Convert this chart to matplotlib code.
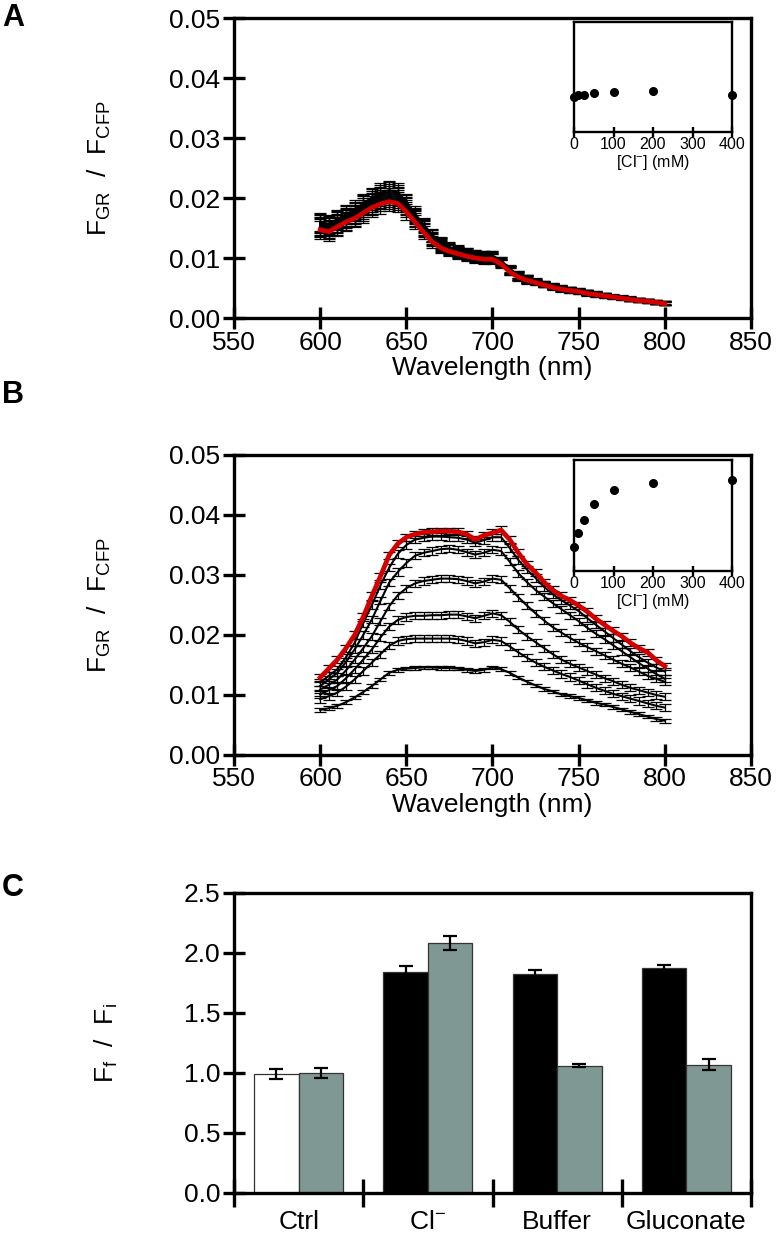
import numpy as np
import matplotlib
matplotlib.use("Agg")
import matplotlib.pyplot as plt
from matplotlib.ticker import FormatStrFormatter, MultipleLocator, FixedLocator

plt.rcParams['font.family'] = ['Liberation Sans', 'DejaVu Sans']
plt.rcParams['mathtext.fontset'] = 'custom'
plt.rcParams['mathtext.rm'] = 'Liberation Sans'
plt.rcParams['mathtext.it'] = 'Liberation Sans:italic'
plt.rcParams['mathtext.bf'] = 'Liberation Sans:bold'

# ---------------- data ----------------
wavelength = list(range(600, 801, 5))
conc = [0, 10, 25, 50, 100, 200, 400]

# Panel A spectra (last = 400 mM, red)
specA_0 = [0.0150,0.0147,0.0154,0.0162,0.0169,0.0178,0.0187,0.0194,0.0198,0.0195,0.0181,0.0163,0.0146,0.0130,0.0119,0.0113,0.0108,0.0104,0.0101,0.0099,0.0099,0.0091,0.0078,0.0069,0.0064,0.0059,0.0055,0.0052,0.0049,0.0046,0.0044,0.0042,0.0039,0.0037,0.0035,0.0033,0.0031,0.0030,0.0028,0.0026,0.0024]
specA_10 = [0.0152,0.0149,0.0157,0.0165,0.0172,0.0181,0.0190,0.0197,0.0201,0.0198,0.0184,0.0166,0.0148,0.0132,0.0121,0.0114,0.0109,0.0105,0.0102,0.0100,0.0100,0.0092,0.0079,0.0070,0.0064,0.0060,0.0056,0.0052,0.0049,0.0047,0.0045,0.0042,0.0040,0.0038,0.0036,0.0034,0.0032,0.0030,0.0028,0.0026,0.0025]
specA_25 = [0.0154,0.0151,0.0159,0.0167,0.0174,0.0184,0.0193,0.0200,0.0204,0.0201,0.0187,0.0168,0.0150,0.0134,0.0122,0.0115,0.0110,0.0106,0.0103,0.0101,0.0101,0.0093,0.0080,0.0070,0.0065,0.0060,0.0056,0.0053,0.0050,0.0047,0.0045,0.0042,0.0040,0.0038,0.0036,0.0034,0.0032,0.0030,0.0028,0.0027,0.0025]
specA_50 = [0.0156,0.0153,0.0161,0.0169,0.0177,0.0187,0.0196,0.0203,0.0207,0.0204,0.0189,0.0170,0.0152,0.0136,0.0124,0.0116,0.0111,0.0107,0.0104,0.0102,0.0102,0.0094,0.0081,0.0071,0.0065,0.0061,0.0057,0.0053,0.0050,0.0048,0.0045,0.0043,0.0040,0.0038,0.0036,0.0034,0.0032,0.0030,0.0029,0.0027,0.0025]
specA_100 = [0.0158,0.0155,0.0163,0.0171,0.0179,0.0189,0.0199,0.0206,0.0210,0.0207,0.0192,0.0172,0.0154,0.0137,0.0125,0.0117,0.0112,0.0108,0.0105,0.0103,0.0103,0.0095,0.0081,0.0072,0.0066,0.0061,0.0057,0.0054,0.0051,0.0048,0.0046,0.0043,0.0041,0.0039,0.0036,0.0034,0.0032,0.0031,0.0029,0.0027,0.0025]
specA_200 = [0.0160,0.0157,0.0165,0.0173,0.0181,0.0191,0.0201,0.0209,0.0213,0.0210,0.0194,0.0174,0.0156,0.0139,0.0126,0.0118,0.0113,0.0109,0.0106,0.0104,0.0104,0.0096,0.0082,0.0072,0.0066,0.0062,0.0058,0.0054,0.0051,0.0048,0.0046,0.0043,0.0041,0.0039,0.0037,0.0035,0.0033,0.0031,0.0029,0.0027,0.0026]
specA_400 = [0.0147,0.0144,0.0152,0.0160,0.0166,0.0175,0.0184,0.0190,0.0194,0.0191,0.0177,0.0160,0.0143,0.0127,0.0117,0.0111,0.0107,0.0103,0.0100,0.0098,0.0098,0.0090,0.0077,0.0068,0.0063,0.0059,0.0055,0.0051,0.0048,0.0046,0.0044,0.0041,0.0039,0.0037,0.0035,0.0033,0.0031,0.0029,0.0028,0.0026,0.0024]
errA = [0.0015,0.0015,0.0015,0.0015,0.0015,0.0016,0.0016,0.0016,0.0016,0.0015,0.0013,0.0012,0.0011,0.0010,0.0009,0.0008,0.0008,0.0008,0.0008,0.0008,0.0008,0.0006,0.0006,0.0006,0.0006,0.0004,0.0004,0.0004,0.0004,0.0004,0.0004,0.0004,0.0004,0.0003,0.0003,0.0003,0.0003,0.0003,0.0003,0.0003,0.0003]

# Panel B spectra
specB_0 = [0.0075,0.0078,0.0082,0.0088,0.0096,0.0105,0.0115,0.0126,0.0137,0.0142,0.0144,0.0145,0.0146,0.0146,0.0145,0.0145,0.0144,0.0142,0.0140,0.0142,0.0146,0.0143,0.0137,0.0129,0.0122,0.0116,0.0110,0.0106,0.0101,0.0098,0.0095,0.0091,0.0087,0.0084,0.0080,0.0076,0.0072,0.0068,0.0064,0.0060,0.0057]
specB_10 = [0.0093,0.0098,0.0104,0.0114,0.0126,0.0140,0.0154,0.0168,0.0182,0.0190,0.0193,0.0194,0.0194,0.0194,0.0194,0.0194,0.0193,0.0190,0.0186,0.0188,0.0192,0.0190,0.0181,0.0171,0.0162,0.0154,0.0147,0.0141,0.0135,0.0130,0.0124,0.0118,0.0112,0.0107,0.0102,0.0098,0.0094,0.0090,0.0086,0.0082,0.0079]
specB_25 = [0.0101,0.0108,0.0115,0.0128,0.0143,0.0159,0.0176,0.0196,0.0214,0.0225,0.0230,0.0232,0.0232,0.0233,0.0233,0.0234,0.0234,0.0231,0.0228,0.0232,0.0236,0.0233,0.0222,0.0209,0.0198,0.0188,0.0178,0.0168,0.0159,0.0152,0.0146,0.0140,0.0134,0.0128,0.0123,0.0117,0.0112,0.0108,0.0104,0.0100,0.0097]
specB_50 = [0.0109,0.0117,0.0126,0.0141,0.0159,0.0178,0.0198,0.0223,0.0248,0.0266,0.0278,0.0286,0.0290,0.0292,0.0294,0.0294,0.0293,0.0290,0.0286,0.0289,0.0294,0.0292,0.0278,0.0263,0.0249,0.0236,0.0224,0.0213,0.0204,0.0195,0.0187,0.0180,0.0173,0.0166,0.0159,0.0152,0.0146,0.0139,0.0132,0.0127,0.0122]
specB_100 = [0.0115,0.0126,0.0137,0.0155,0.0176,0.0200,0.0226,0.0257,0.0287,0.0305,0.0320,0.0332,0.0337,0.0340,0.0343,0.0344,0.0342,0.0338,0.0334,0.0337,0.0342,0.0340,0.0322,0.0303,0.0288,0.0275,0.0264,0.0253,0.0243,0.0233,0.0223,0.0212,0.0202,0.0193,0.0183,0.0173,0.0163,0.0153,0.0144,0.0135,0.0127]
specB_200 = [0.0121,0.0132,0.0143,0.0163,0.0187,0.0220,0.0250,0.0283,0.0312,0.0335,0.0350,0.0359,0.0362,0.0364,0.0364,0.0363,0.0362,0.0359,0.0354,0.0358,0.0363,0.0363,0.0345,0.0325,0.0309,0.0295,0.0280,0.0268,0.0258,0.0249,0.0240,0.0228,0.0217,0.0206,0.0195,0.0184,0.0173,0.0163,0.0154,0.0146,0.0139]
specB_400 = [0.0129,0.0144,0.0159,0.0178,0.0200,0.0230,0.0265,0.0298,0.0333,0.0352,0.0363,0.0368,0.0371,0.0372,0.0373,0.0373,0.0372,0.0368,0.0359,0.0366,0.0370,0.0375,0.0359,0.0337,0.0318,0.0304,0.0288,0.0275,0.0265,0.0258,0.0249,0.0239,0.0227,0.0217,0.0207,0.0198,0.0187,0.0178,0.0171,0.0158,0.0148]
errB = [0.0003, 0.0006, 0.0006, 0.0006, 0.0006, 0.0006, 0.0006]

# insets
insetA_vals = [0.0184, 0.0188, 0.0190, 0.0195, 0.0201, 0.0203, 0.0188]
insetB_vals = [0.0145, 0.0190, 0.0235, 0.0290, 0.0336, 0.0360, 0.0370]

# Panel C
groups = ['Ctrl', 'Cl$^{-}$', 'Buffer', 'Gluconate']
first_vals = [0.99, 1.845, 1.825, 1.875]
first_err = [0.04, 0.048, 0.036, 0.028]
second_vals = [1.00, 2.085, 1.06, 1.07]
second_err = [0.04, 0.058, 0.013, 0.046]

# ---------------- figure ----------------
W, H = 779, 1237
fig = plt.figure(figsize=(W/100, H/100), dpi=100)

def fpos(x0, y0, x1, y1):
    return [x0/W, 1 - y1/H, (x1-x0)/W, (y1-y0)/H]

FS = 19
SP_LW = 2.4

def style_main(ax):
    for s in ax.spines.values():
        s.set_linewidth(SP_LW)
    ax.tick_params(axis='both', direction='inout', length=16, width=2.4,
                   labelsize=FS, pad=2)

def spectra_panel(ax, specs, errs_list):
    n = len(specs)
    for i, (s, e) in enumerate(zip(specs, errs_list)):
        red = (i == n-1)
        ax.errorbar(wavelength, s, yerr=e, fmt='none', ecolor='black',
                    elinewidth=0.9, capsize=4.5, capthick=0.9, zorder=2)
        ax.plot(wavelength, s, color='#d40000' if red else 'black',
                lw=3.4 if red else 1.5, zorder=4 if red else 3,
                solid_joinstyle='round')
    ax.set_xlim(550, 850)
    ax.set_ylim(0, 0.05)
    ax.xaxis.set_major_locator(MultipleLocator(50))
    ax.yaxis.set_major_locator(MultipleLocator(0.01))
    ax.yaxis.set_major_formatter(FormatStrFormatter('%.2f'))
    ax.tick_params(axis='x', pad=1)
    ax.set_xlabel('Wavelength (nm)', fontsize=FS, labelpad=1)
    ax.set_ylabel(r'F$_{\mathrm{GR}}$  /  F$_{\mathrm{CFP}}$', fontsize=FS, labelpad=40)

def inset(ax, vals):
    ax.plot(conc, vals, 'o', color='black', ms=5.5, clip_on=False, zorder=5)
    ax.set_xlim(0, 400)
    ax.set_ylim(0.0063, 0.0438)
    ax.set_yticks([])
    ax.xaxis.set_major_locator(MultipleLocator(100))
    for s in ax.spines.values():
        s.set_linewidth(1.7)
    ax.tick_params(axis='x', direction='inout', length=7, width=1.7,
                   labelsize=11.5, pad=0)
    ax.set_xlabel(r'[Cl$^{-}$] (mM)', fontsize=11.5, labelpad=1)

axA = fig.add_axes(fpos(234, 18, 751, 318))
style_main(axA)
spectra_panel(axA, [specA_0, specA_10, specA_25, specA_50, specA_100, specA_200, specA_400],
              [errA]*7)
axB = fig.add_axes(fpos(234, 455, 751, 755))
style_main(axB)
spectra_panel(axB, [specB_0, specB_10, specB_25, specB_50, specB_100, specB_200, specB_400],
              errB)

insA = fig.add_axes(fpos(574, 22, 732, 132))
inset(insA, insetA_vals)
insB = fig.add_axes(fpos(574, 460, 732, 571))
inset(insB, insetB_vals)

# Panel C
axC = fig.add_axes(fpos(234, 893, 751, 1193))
x = np.arange(len(groups))
bw = 0.345
first_colors = ['white', 'black', 'black', 'black']
axC.bar(x - bw/2, first_vals, width=bw, color=first_colors, edgecolor='#333333',
        linewidth=0.9, zorder=2)
axC.bar(x + bw/2, second_vals, width=bw, color='#7f9893', edgecolor='#333333',
        linewidth=0.9, zorder=2)
axC.errorbar(x - bw/2, first_vals, yerr=first_err, fmt='none', ecolor='black',
             elinewidth=1.6, capsize=5, capthick=1.6, zorder=3)
axC.errorbar(x + bw/2, second_vals, yerr=second_err, fmt='none', ecolor='black',
             elinewidth=1.6, capsize=5, capthick=1.6, zorder=3)
axC.set_xlim(-0.5, len(groups) - 0.5)
axC.set_ylim(0, 2.5)
axC.yaxis.set_major_locator(MultipleLocator(0.5))
axC.yaxis.set_major_formatter(FormatStrFormatter('%.1f'))
axC.xaxis.set_major_locator(FixedLocator(np.arange(len(groups) + 1) - 0.5))
axC.xaxis.set_major_formatter(plt.NullFormatter())
axC.xaxis.set_minor_locator(FixedLocator(x))
axC.set_xticklabels(groups, minor=True)
style_main(axC)
axC.tick_params(axis='x', which='major', length=20)
axC.tick_params(axis='x', which='minor', length=0, labelsize=FS, pad=12)
axC.set_ylabel(r'F$_{\mathrm{f}}$  /  F$_{\mathrm{i}}$', fontsize=FS, labelpad=46)

# panel letters
for lab, ypx in [('A', 18), ('B', 395), ('C', 888)]:
    fig.text(2/W, 1 - ypx/H, lab, fontsize=22, fontweight='bold', va='center', ha='left')

fig.savefig('out.png', dpi=100)
